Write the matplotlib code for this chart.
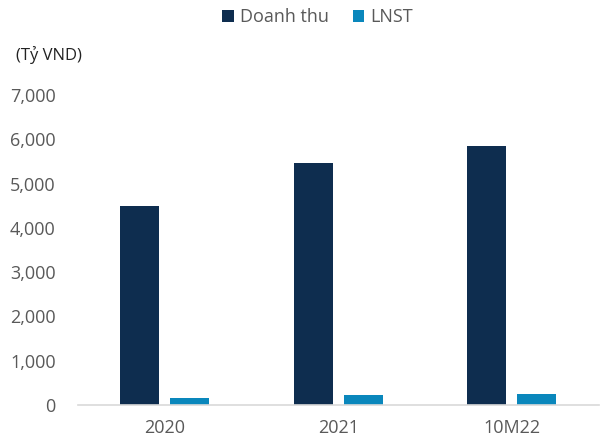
import matplotlib
matplotlib.use("Agg")
import matplotlib.pyplot as plt
import numpy as np

plt.rcParams['font.family'] = ['Open Sans', 'DejaVu Sans']

# data
categories = ['2020', '2021', '10M22']
doanh_thu = [4490, 5460, 5850]
lnst = [160, 225, 250]

c_dt = '#0E2D4F'
c_ln = '#0A87BC'
grey = '#595959'

fig = plt.figure(figsize=(6.03, 4.44), dpi=100)
ax = fig.add_axes([0.129, 0.088, 0.864, 0.698])

x = np.arange(len(categories))
w = 0.225
off = 0.144
ax.bar(x - off, doanh_thu, w, color=c_dt, label='Doanh thu')
ax.bar(x + off, lnst, w, color=c_ln, label='LNST')

ax.set_xlim(-0.5, 2.5)
ax.set_ylim(0, 7000)
ax.set_yticks(range(0, 7001, 1000))
ax.set_yticklabels([f'{v:,}' for v in range(0, 7001, 1000)])
ax.set_xticks(x)
ax.set_xticklabels(categories)

for s in ['top', 'right', 'left']:
    ax.spines[s].set_visible(False)
ax.spines['bottom'].set_color('#D9D9D9')
ax.spines['bottom'].set_linewidth(1.2)
ax.tick_params(axis='both', length=0, labelsize=13, labelcolor=grey)
ax.tick_params(axis='x', pad=10)
ax.tick_params(axis='y', pad=16)

fig.text(0.026, 0.875, '(Tỷ VND)', fontsize=12, color='#222222', va='center')

fig.legend(loc='center', bbox_to_anchor=(0.527, 0.962), ncol=2, frameon=False,
           fontsize=13, labelcolor=grey, handlelength=0.65, handleheight=0.65,
           handletextpad=0.35, columnspacing=1.3)

fig.savefig('out.png', dpi=100)
